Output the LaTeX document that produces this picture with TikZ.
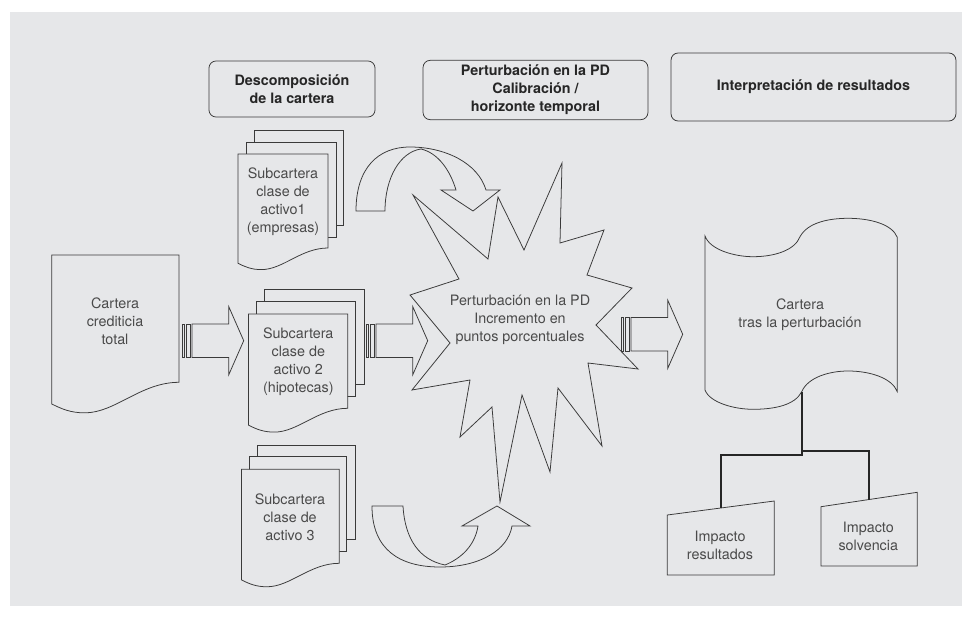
\documentclass[tikz,border=0pt]{standalone}
\usepackage{fontspec}
\setmainfont{TeX Gyre Heros}
\usepackage{tikz}
\usetikzlibrary{calc}
\definecolor{panel}{HTML}{E6E7E9}
\definecolor{ink}{HTML}{3A3A3A}
\definecolor{txtgrey}{HTML}{4A4A4A}
% page with a wavy foot: left, top, right, foot at the right edge
\def\docpage[#1](#2,#3,#4,#5){%
  \pgfmathsetmacro\pagew{#4-#2}
  \draw[#1] (#4,#5) -- (#4,#3) -- (#2,#3) -- (#2,{#5+0.17*\pagew})
    .. controls ({#2+0.08*\pagew},{#5+0.21*\pagew}) and ({#2+0.15*\pagew},{#5+0.24*\pagew}) .. ({#2+0.26*\pagew},{#5+0.24*\pagew})
    .. controls ({#2+0.5*\pagew},{#5+0.24*\pagew}) and ({#4-0.3*\pagew},{#5}) .. (#4,#5) -- cycle;}
% striped block arrow: start of the stripes, middle height
\def\stripearrow(#1,#2){%
  \draw[shp] (#1,#2-16.7) rectangle (#1+1.6,#2+16.7);
  \draw[shp] (#1+3.4,#2-16.7) rectangle (#1+7.4,#2+16.7);
  \draw[shp] (#1+9.2,#2-16.7) -- (#1+46,#2-16.7) -- (#1+46,#2-34.2) -- (#1+61,#2)
    -- (#1+46,#2+34.2) -- (#1+46,#2+16.7) -- (#1+9.2,#2+16.7) -- cycle;}

\begin{document}
\begin{tikzpicture}[x=0.025cm,y=-0.025cm,
    shp/.style={draw=ink,line width=0.55pt},
    sheet/.style={shp,fill=panel},
    txt/.style={align=center,inner sep=0pt,text=txtgrey,font=\fontsize{10.2}{12.8}\selectfont},
    header/.style={shp,rounded corners=5pt,align=center,text=black!85,font=\fontsize{10.2}{12.8}\selectfont\bfseries},
    tree/.style={draw=black!85,line width=1.2pt}]
    %%%%% START %%%%%
    \useasboundingbox (0,0) rectangle (962,618);
    \fill[panel] (10,12) rectangle (962,606);

    % headers
    \node[header,minimum width=4.15cm,minimum height=1.4cm] (hdec) at (292,89) {Descomposición\\de la cartera};
    \node[header,minimum width=5.62cm,minimum height=1.4cm] (hpert) at (535.5,90) {Perturbación en la PD\\Calibración /\\horizonte temporal};
    \node[header,minimum width=7.12cm,minimum height=1.7cm] (hint) at (813.5,87) {Interpretación de resultados};

    % whole portfolio
    \docpage[sheet](51.7,255,179,382.3)
    \node[txt] (total) at (115,321) {Cartera\\crediticia\\total};

    % sub-portfolios
    \draw[sheet] (254,130) rectangle (343,225);
    \draw[sheet] (246,142) rectangle (336,237);
    \docpage[sheet](238,154,328,248)
    \node[txt] (sub1) at (283,202) {Subcartera\\clase de\\activo1\\(empresas)};

    \draw[sheet] (264.3,289.3) rectangle (364,384.5);
    \draw[sheet] (256.7,301.7) rectangle (355.7,396.7);
    \docpage[sheet](248.5,314,347.7,408.3)
    \node[txt] (sub2) at (298.3,361.7) {Subcartera\\clase de\\activo 2\\(hipotecas)};

    \draw[sheet] (257.7,445) rectangle (355,539.3);
    \draw[sheet] (249.3,456.7) rectangle (346.7,551.7);
    \docpage[sheet](241.5,469.3,339.3,563.3)
    \node[txt] (sub3) at (290,517.3) {Subcartera\\clase de\\activo 3};

    % shock
    \draw[shp] (413,195) -- (488,259) -- (498,197) -- (524,250) -- (562,163) -- (560,243)
      -- (604,230) -- (587,275) -- (632,288) -- (596,325) -- (638,369) -- (588,363)
      -- (602,446) -- (558,388) -- (550,472) -- (522,395) -- (500,502) -- (492,407)
      -- (460,437) -- (470,380) -- (412,390) -- (450,343) -- (410,295) -- (459,279) -- cycle;
    \node[txt] (shock) at (520,320.3) {Perturbación en la PD\\Incremento en\\puntos porcentuales};

    % curved arrows
    \draw[shp] (356,211) .. controls (356,168) and (378,147) .. (410,147)
      .. controls (445,147) and (478,163) .. (486,190) -- (500,190) -- (473,211) -- (441,190) -- (456,190)
      .. controls (450,170) and (438,153) .. (421,149)
      .. controls (400,152) and (385,178) .. (385,211) -- cycle;
    \draw[shp] (372,506) .. controls (372,550) and (400,567) .. (440,567)
      .. controls (480,567) and (508,550) .. (512,526) -- (530,526) -- (497,506) -- (462,526) -- (478,526)
      .. controls (475,545) and (462,558) .. (445,565)
      .. controls (420,560) and (405,540) .. (403,506) -- cycle;

    % striped arrows
    \stripearrow(182.7,340.7)
    \stripearrow(366.7,340.7)
    \stripearrow(621.7,334.3)

    % portfolio after the shock
    \draw[shp] (705,236) .. controls (710,250) and (735,256.7) .. (753,256.7)
      .. controls (775,256.7) and (795,250) .. (800,236.7)
      .. controls (808,222) and (830,218.3) .. (848,218.3)
      .. controls (870,218.3) and (892,224) .. (897.3,237.3) -- (897.3,391.7)
      .. controls (892,378) and (870,371) .. (848,371)
      .. controls (830,371) and (808,377) .. (801.7,391.7)
      .. controls (795,405) and (775,409.3) .. (753,409.3)
      .. controls (735,409.3) and (710,403) .. (705,390) -- cycle;
    \node[txt] (after) at (800,315) {Cartera\\tras la perturbación};
    \coordinate (tapefoot) at (801.7,391.7);

    % impacts
    \draw[shp] (667.3,515) -- (774.3,501) -- (774.3,575) -- (667.3,575) -- cycle;
    \node[txt] (impres) at (720,545) {Impacto\\resultados};
    \coordinate (impresTop) at (720.7,508);
    \draw[shp] (821,506.7) -- (917.3,492.3) -- (917.3,566) -- (821,566) -- cycle;
    \node[txt] (impsol) at (868.3,536.2) {Impacto\\solvencia};
    \coordinate (impsolTop) at (869.3,499.6);

    \draw[tree] (tapefoot) -- ++(0,63.3) -| (impresTop);
    \draw[tree] (tapefoot) ++(0,59) -| (impsolTop);
    %%%%% END %%%%%
\end{tikzpicture}
\end{document}
